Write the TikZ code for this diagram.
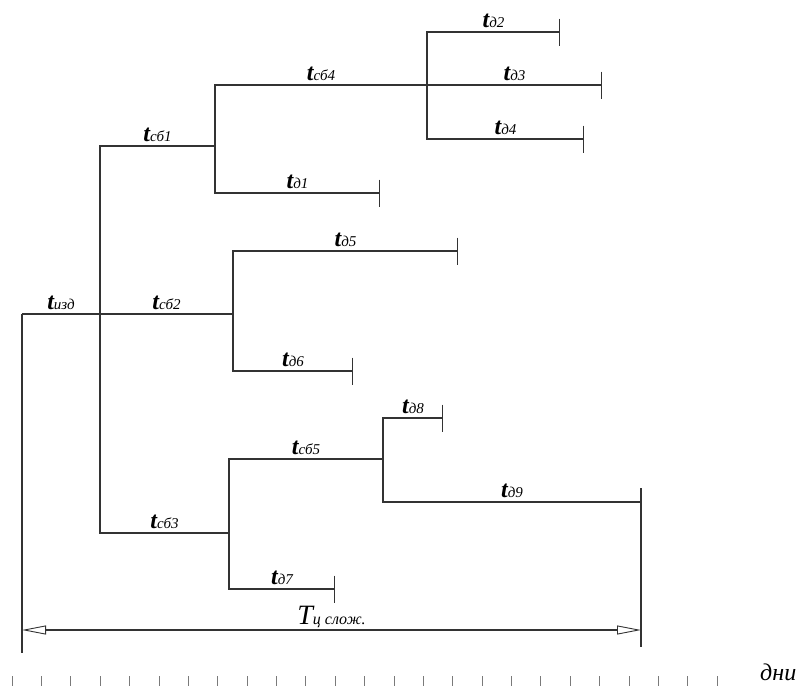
\documentclass[tikz,border=0pt]{standalone}
\usepackage{fontspec}
\setmainfont{Liberation Serif}
\usetikzlibrary{arrows.meta}
\definecolor{LineGray}{HTML}{333333}
\definecolor{TickGray}{HTML}{7A7A7A}
\newcommand{\tdur}[1]{{\fontsize{24}{24}\selectfont\bfseries\itshape t}{\fontsize{15}{15}\selectfont\itshape #1}}

\begin{document}
\begin{tikzpicture}[x=1pt,y=-1pt,
  ligne/.style={draw=LineGray,line width=1.1pt},
  fin/.style={ligne,-{Bar[width=27pt,line width=1.1pt]}},
  cote/.style={ligne,{Triangle[open,length=24pt,width=9pt,line width=0.9pt]}-{Triangle[open,length=24pt,width=9pt,line width=0.9pt]}},
  lab/.style={anchor=base,yshift=5pt,inner sep=0pt},
  tick/.style={draw=TickGray,line width=0.7pt}]
  \useasboundingbox (0,0) rectangle (801,686);
  % branch points
  \coordinate (root) at (22,314);
  \coordinate (n0) at (100,314);
  \coordinate (n1) at (215,146);
  \coordinate (n2) at (233,314);
  \coordinate (n3) at (229,533);
  \coordinate (n4) at (427,85);
  \coordinate (n5) at (383,459);
  % ends of the detail lines
  \coordinate (d1) at (380,193);
  \coordinate (d2) at (560,32);
  \coordinate (d3) at (602,85);
  \coordinate (d4) at (584,139);
  \coordinate (d5) at (458,251);
  \coordinate (d6) at (353,371);
  \coordinate (d7) at (335,589);
  \coordinate (d8) at (443,418);
  \coordinate (d9) at (641,502);
  % dimension line
  \coordinate (base) at (22,653);
  \coordinate (e1) at (641,488);
  \coordinate (e2) at (641,647);
  \coordinate (dl) at (22,630);
  \coordinate (dr) at (641,630);

  \draw[ligne] (root) -- node[lab] {\tdur{изд}} (n0);
  \draw[ligne] (n0) |- node[lab,pos=.75] {\tdur{сб1}} (n1);
  \draw[ligne] (n0) -- node[lab] {\tdur{сб2}} (n2);
  \draw[ligne] (n0) |- node[lab,pos=.75] {\tdur{сб3}} (n3);
  \draw[ligne] (n1) |- node[lab,pos=.75] {\tdur{сб4}} (n4);
  \draw[fin] (n1) |- node[lab,pos=.75] {\tdur{д1}} (d1);
  \draw[fin] (n4) |- node[lab,pos=.75] {\tdur{д2}} (d2);
  \draw[fin] (n4) -- node[lab] {\tdur{д3}} (d3);
  \draw[fin] (n4) |- node[lab,pos=.75] {\tdur{д4}} (d4);
  \draw[fin] (n2) |- node[lab,pos=.75] {\tdur{д5}} (d5);
  \draw[fin] (n2) |- node[lab,pos=.75] {\tdur{д6}} (d6);
  \draw[ligne] (n3) |- node[lab,pos=.75] {\tdur{сб5}} (n5);
  \draw[fin] (n3) |- node[lab,pos=.75] {\tdur{д7}} (d7);
  \draw[fin] (n5) |- node[lab,pos=.75] {\tdur{д8}} (d8);
  \draw[ligne] (n5) |- node[lab,pos=.75] {\tdur{д9}} (d9);

  \draw[ligne] (root) -- (base);
  \draw[ligne] (e1) -- (e2);
  \draw[cote] (dl) -- node[lab,yshift=1pt] {{\fontsize{28}{28}\selectfont\itshape T}{\fontsize{16}{16}\selectfont\itshape ц слож.}} (dr);

  % time axis
  \foreach \k in {0,...,24}
    \draw[tick] ({12+29.375*\k},676) -- ++(0,10);
  \node[anchor=base west,inner sep=0pt,font=\fontsize{24}{24}\selectfont\itshape] (days) at (760,680) {дни};
\end{tikzpicture}
\end{document}
